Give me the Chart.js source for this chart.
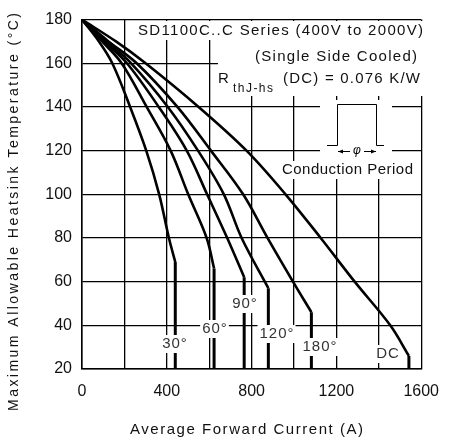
<!DOCTYPE html>
<html>
<head>
<meta charset="utf-8">
<script src="https://cdn.jsdelivr.net/npm/chart.js@4"></script>
<style>
  body { margin: 0; background: #fff; }
  canvas { display: block; }
</style>
</head>
<body>
<canvas id="myChart" width="452" height="443"></canvas>
<script>
// Datos (temperatura en °C, corriente en A)
var curveLabels = ['30°', '60°', '90°', '120°', '180°', 'DC'];
var temps30 = [180, 170, 160, 140, 120, 100, 80, 69];
var amps30 = [0, 80, 143, 227, 303, 364, 410, 440];
var temps60 = [180, 170, 160, 140, 120, 100, 80, 66];
var amps60 = [0, 95, 187, 305, 418, 501, 588, 623];
var temps90 = [180, 170, 160, 140, 120, 100, 80, 62];
var amps90 = [0, 105, 212, 362, 494, 590, 685, 765];
var temps120 = [180, 170, 160, 140, 120, 100, 80, 57];
var amps120 = [0, 115, 232, 405, 547, 669, 753, 879];
var temps180 = [180, 170, 160, 140, 120, 100, 80, 60, 46];
var amps180 = [0, 125, 258, 450, 608, 760, 875, 995, 1082];
var tempsDC = [180, 170, 160, 140, 120, 100, 80, 60, 40, 26];
var ampsDC = [0, 160, 300, 550, 776, 960, 1126, 1286, 1454, 1542];
var xTicks = [0, 400, 800, 1200, 1600];
var yTicks = [20, 40, 60, 80, 100, 120, 140, 160, 180];

var allTemps = [temps30, temps60, temps90, temps120, temps180, tempsDC];
var allAmps = [amps30, amps60, amps90, amps120, amps180, ampsDC];

var datasets = [];
allTemps.forEach(function (t, k) {
    var a = allAmps[k];
    datasets.push({
        label: curveLabels[k],
        data: t.map(function (v, i) { return {x: a[i], y: v}; }),
        borderColor: '#000', borderWidth: 2.6, pointRadius: 0, tension: 0.35, fill: false
    });
    // caída vertical desde el codo hasta el eje
    var last = t.length - 1;
    datasets.push({
        label: curveLabels[k] + ' drop',
        data: [{x: a[last], y: t[last]}, {x: a[last], y: yTicks[0]}],
        borderColor: '#000', borderWidth: 3, pointRadius: 0, tension: 0, fill: false
    });
});

var FONT = '"Liberation Sans", Arial, sans-serif';

function fitText(ctx, text, x0, x1, y, size) {
    ctx.font = size + 'px ' + FONT;
    ctx.letterSpacing = '0px';
    var w = ctx.measureText(text).width;
    var ls = (x1 - x0 - w) / (text.length - 1);
    ctx.letterSpacing = ls + 'px';
    ctx.textAlign = 'left';
    ctx.textBaseline = 'middle';
    ctx.fillText(text, x0, y);
    ctx.letterSpacing = '0px';
}

function whiteBox(ctx, x0, y0, x1, y1) {
    ctx.fillStyle = '#fff';
    ctx.fillRect(x0, y0, x1 - x0, y1 - y0);
}

var notes = {
    id: 'notes',
    beforeDatasetsDraw: function (chart) {
        var ctx = chart.ctx;
        ctx.save();
        // zonas en blanco para el recuadro de texto
        whiteBox(ctx, 133, 21, 429, 40);
        whiteBox(ctx, 218, 40, 429, 96);
        whiteBox(ctx, 320, 100, 392, 178);
        whiteBox(ctx, 279, 161, 417, 179);
        ctx.fillStyle = '#111';
        fitText(ctx, 'SD1100C..C Series (400V to 2000V)', 138, 423, 31, 15);
        fitText(ctx, '(Single Side Cooled)', 255, 417, 57, 15);
        fitText(ctx, 'R', 218, 227, 79, 15);
        fitText(ctx, 'thJ-hs', 233, 273, 89, 12);
        fitText(ctx, '(DC) = 0.076 K/W', 283, 420, 79, 15);
        fitText(ctx, 'Conduction Period', 282, 413, 170, 15);
        // pulso de conducción
        ctx.strokeStyle = '#000';
        ctx.lineWidth = 1;
        ctx.beginPath();
        ctx.moveTo(327, 145.5); ctx.lineTo(337.5, 145.5); ctx.lineTo(337.5, 104.5);
        ctx.lineTo(376.5, 104.5); ctx.lineTo(376.5, 145.5); ctx.lineTo(384, 145.5);
        ctx.stroke();
        ctx.beginPath();
        ctx.moveTo(338, 151.5); ctx.lineTo(350, 151.5);
        ctx.moveTo(364, 151.5); ctx.lineTo(376, 151.5);
        ctx.stroke();
        ctx.fillStyle = '#000';
        ctx.beginPath();
        ctx.moveTo(338, 151.5); ctx.lineTo(343, 149.5); ctx.lineTo(343, 153.5); ctx.fill();
        ctx.beginPath();
        ctx.moveTo(376, 151.5); ctx.lineTo(371, 149.5); ctx.lineTo(371, 153.5); ctx.fill();
        ctx.font = 'italic 12px ' + FONT;
        ctx.textAlign = 'center';
        ctx.textBaseline = 'middle';
        ctx.fillText('φ', 357, 151);
        ctx.restore();
    },
    afterDatasetsDraw: function (chart) {
        var ctx = chart.ctx;
        // etiquetas de las curvas
        var pos = [[175, 344], [215, 329], [245, 304], [277, 334], [320, 347], [388, 354]];
        ctx.save();
        ctx.font = '15px ' + FONT;
        ctx.letterSpacing = '1px';
        curveLabels.forEach(function (lab, i) {
            var w = ctx.measureText(lab).width;
            whiteBox(ctx, pos[i][0] - w / 2 - 2, pos[i][1] - 9, pos[i][0] + w / 2 + 1, pos[i][1] + 9);
            ctx.fillStyle = '#333';
            ctx.textAlign = 'center';
            ctx.textBaseline = 'middle';
            ctx.fillText(lab, pos[i][0], pos[i][1]);
        });
        ctx.restore();
    },
    afterDraw: function (chart) {
        var ctx = chart.ctx;
        ctx.save();
        ctx.fillStyle = '#111';
        fitText(ctx, 'Average Forward Current (A)', 130, 363, 430, 15);
        ctx.translate(14, 212);
        ctx.rotate(-Math.PI / 2);
        fitText(ctx, 'Maximum Allowable Heatsink Temperature (°C)', -199, 199, 0, 14);
        ctx.restore();
    }
};

var ctx = document.getElementById('myChart').getContext('2d');
var myChart = new Chart(ctx, {
    type: 'line',
    data: { datasets: datasets },
    plugins: [notes],
    options: {
        responsive: false,
        animation: false,
        layout: { padding: { top: 17, right: 20, left: 0, bottom: 0 } },
        plugins: { legend: { display: false }, tooltip: { enabled: false } },
        scales: {
            x: {
                type: 'linear',
                min: xTicks[0],
                max: xTicks[xTicks.length - 1],
                afterFit: function (s) { s.height = 74; },
                grid: { color: '#000', lineWidth: 1.3, drawTicks: false },
                border: { color: '#000', width: 1.5 },
                ticks: {
                    stepSize: 200, autoSkip: false, maxRotation: 0, padding: 13,
                    color: '#111', font: { family: FONT, size: 16 },
                    callback: function (v) { return xTicks.indexOf(v) >= 0 ? v : ''; }
                }
            },
            y: {
                min: yTicks[0],
                max: yTicks[yTicks.length - 1],
                afterFit: function (s) { s.width = 82; },
                grid: { color: '#000', lineWidth: 1.3, drawTicks: false },
                border: { color: '#000', width: 1.5 },
                ticks: {
                    stepSize: 20, padding: 10,
                    color: '#111', font: { family: FONT, size: 16 }
                }
            }
        }
    }
});
</script>
</body>
</html>
